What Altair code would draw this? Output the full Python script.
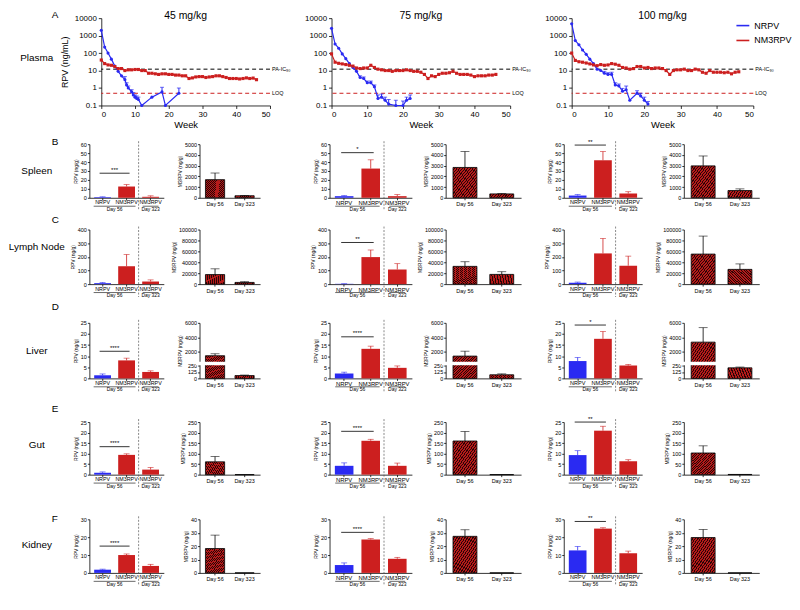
import altair as alt
import pandas as pd

FONT = "Liberation Sans"
BLUE = "#2a2af2"
RED = "#cc1f1f"
HATCH_RED = "#b51a1a"
HATCH_DARK = "#2a0606"

# ---------------- data ----------------
DOSES = ["45 mg/kg", "75 mg/kg", "100 mg/kg"]
SERIES = ["NRPV", "NM3RPV"]
ROW_NAMES = ["Plasma", "Spleen", "Lymph Node", "Liver", "Gut", "Kidney"]
ROW_LETTERS = ["A", "B", "C", "D", "E", "F"]

PLASMA_X_TICKS = [0, 10, 20, 30, 40, 50]
PLASMA_Y_TICKS = [0.1, 1, 10, 100, 1000, 10000]
THRESH_NAMES = ["PA-IC₉₀", "LOQ"]
THRESH_VALUES = [12, 0.5]

NRPV_WEEKS = [
    [0, 1, 2, 3, 4, 5, 6, 7, 7.5, 8, 9, 9.5, 10, 10.5, 11, 12, 15, 18, 19, 23],
    [0, 1, 2, 3, 4, 5, 6, 7, 8, 9, 10, 11, 12, 13, 14, 15, 16, 18, 20, 21, 22],
    [0, 1, 2, 3, 4, 5, 6, 7, 8, 9, 10, 11, 12, 13, 14, 15, 16, 18, 19, 20, 21],
]
NRPV_CONC = [
    [2000, 220, 100, 45, 18, 9, 5, 3, 1.5, 1.0, 0.6, 0.4, 0.3, 0.25, 0.22, 0.1, 0.3, 0.6, 0.1, 0.5],
    [2600, 330, 190, 90, 48, 25, 15, 9, 4, 3.5, 2, 2, 1.2, 0.25, 0.3, 0.2, 0.12, 0.1, 0.1, 0.2, 0.25],
    [4800, 520, 300, 150, 85, 45, 25, 12, 10, 7, 6, 6, 1.5, 1.3, 0.65, 0.8, 0.2, 0.5, 0.35, 0.2, 0.12],
]
NRPV_ERR = [
    [0, 0, 0, 0, 0, 0, 0, 1.5, 0.5, 0.3, 0.2, 0.15, 0.1, 0.1, 0.08, 0, 0, 0.5, 0, 0.5],
    [0, 0, 0, 0, 0, 0, 0, 0, 1, 0.8, 0.5, 0.5, 0.3, 0.15, 0.15, 0.1, 0.1, 0.1, 0.08, 0.1, 0.15],
    [0, 0, 0, 0, 0, 0, 0, 0, 0, 2, 1.5, 2, 0.5, 0.4, 0.3, 0.5, 0, 0.2, 0.15, 0.1, 0.05],
]
NM3RPV_WEEKS = [0, 1, 2, 3, 4, 5, 6, 7, 8, 9, 10, 11, 12, 13, 14, 15, 16, 17, 18, 19, 20, 21, 22, 23,
                24, 25, 26, 27, 28, 29, 30, 31, 32, 33, 34, 35, 36, 37, 38, 39, 40, 41, 42, 43, 44, 45, 46]
NM3RPV_CONC = [
    [40, 25, 21, 20, 17, 13, 13, 10, 11, 11, 11.5, 11.5, 10, 10, 7, 7, 6.5, 6, 6.5, 6.5, 6, 6, 5.5, 5.5,
     5, 5, 3.5, 3.8, 4.3, 4.5, 4.5, 4, 4.3, 4.5, 5, 5, 4.5, 4, 3.5, 3.5, 3.5, 3.3, 3.5, 3.8, 3.5, 3.7, 3.0],
    [90, 30, 26, 24, 22, 20, 18, 14, 13, 14, 14, 20, 15, 12, 11, 10, 10, 9, 10, 10, 10, 11, 10, 9,
     9, 8, 6, 3.5, 5, 4.5, 6, 7, 7, 7.5, 9, 7, 6, 6, 6, 5.5, 4.5, 5, 5, 5, 5.5, 5.5, 6],
    [100, 38, 32, 30, 27, 24, 21, 19, 22, 20, 21, 25, 23, 20, 15, 14, 12, 13, 17, 17, 14, 15, 13, 14,
     14, 13, 10, 6, 10, 11, 11, 12, 10, 10, 12, 11, 8, 7, 10, 8, 8, 8, 7.5, 8, 6.5, 8, 8.5],
]

ORGANS = ["Spleen", "Lymph Node", "Liver", "Gut", "Kidney"]
BAR_GROUPS = ["NRPV", "NM3RPV d56", "NM3RPV d323"]
BAR_COLORS = [BLUE, RED, RED]
DAY_LABELS = ["Day 56", "Day 323"]
M3_GROUPS = ["Day 56", "Day 323"]

RPV_MEAN = {
    "Spleen": [[0.7, 12.6, 1.1], [1.8, 32.7, 1.8], [2.5, 42, 4.7]],
    "Lymph Node": [[7, 131, 19], [2, 198, 107], [10, 225, 135]],
    "Liver": [[1.4, 8.1, 2.9], [2.2, 13.3, 4.75], [7.8, 17.8, 5.75]],
    "Gut": [[0.9, 9.4, 2.4], [4.2, 16.1, 4.2], [9.3, 20.9, 6.4]],
    "Kidney": [[1.8, 10, 3.9], [4.4, 18.7, 7.9], [12.6, 24.8, 11]],
}
RPV_ERR = {
    "Spleen": [[0.4, 2.2, 1.1], [0.7, 9.8, 1.8], [1.1, 9.8, 2.1]],
    "Lymph Node": [[5, 86, 12], [1, 52, 43], [5, 110, 70]],
    "Liver": [[0.6, 1.0, 0.5], [0.6, 1.2, 0.85], [1.6, 3.3, 0.55]],
    "Gut": [[0.4, 0.5, 1.0], [1.4, 0.7, 1.3], [2.1, 2.1, 0.7]],
    "Kidney": [[0.3, 0.6, 0.9], [1.2, 0.5, 0.8], [2.2, 0.5, 1.2]],
}
RPV_TICKS = {
    "Spleen": [0, 10, 20, 30, 40, 50, 60],
    "Lymph Node": [0, 100, 200, 300, 400],
    "Liver": [0, 5, 10, 15, 20, 25],
    "Gut": [0, 5, 10, 15, 20, 25],
    "Kidney": [0, 10, 20, 30],
}
SIG_TEXT = {
    "Spleen": ["***", "*", "**"],
    "Lymph Node": ["", "**", ""],
    "Liver": ["****", "****", "*"],
    "Gut": ["****", "****", "**"],
    "Kidney": ["****", "****", "**"],
}
SIG_LEVEL = {
    "Spleen": [27.5, 50.5, 59],
    "Lymph Node": [0, 305, 0],
    "Liver": [12.2, 18.7, 24],
    "Gut": [13.3, 20.6, 25],
    "Kidney": [15, 22.7, 28.8],
}
M3_MEAN = {
    "Spleen": [[1690, 190], [2830, 360], [2975, 675]],
    "Lymph Node": [[17500, 3100], [32500, 17800], [55000, 27000]],
    "Liver": [[1450, 55], [1400, 70], [3330, 205]],
    "Gut": [[61, 0], [160, 0], [103, 1]],
    "Kidney": [[18.2, 0], [27.3, 0], [26.4, 0]],
}
M3_ERR = {
    "Spleen": [[620, 30], [1485, 30], [925, 155]],
    "Lymph Node": [[10500, 1300], [8500, 4900], [33000, 10000]],
    "Liver": [[270, 10], [680, 18], [2000, 15]],
    "Gut": [[25, 0], [45, 0], [34, 0]],
    "Kidney": [[10, 0], [4.9, 0], [6, 0]],
}
M3_TICKS = {
    "Spleen": [0, 1000, 2000, 3000, 4000, 5000],
    "Lymph Node": [0, 20000, 40000, 60000, 80000, 100000],
    "Liver": [0, 125, 250, 2000, 4000, 6000],
    "Gut": [0, 50, 100, 150, 200, 250],
    "Kidney": [0, 10, 20, 30, 40],
}
LIVER_BREAK = [250, 650]  # lower segment top, upper segment bottom

# ---------------- layout (style) ----------------
ANCHOR_X = -11
PLASMA_ROW_W = [81, 170, 62, 180, 62, 183]
BAR_ROW_W = [69, 75, 36, 61, 70, 83, 34, 76, 43, 79, 42, 76]
ROW_H = [88, 54, 55, 56, 53, 54]
ROW_TOP = [8, 15, 17, 24, 29, 30]      # space reserved above each row's plots
ROW_BOTTOM = [23, 14, 14, 14, 14, 14]  # space reserved below each row's plots
NAME_X = 16
NAME_Y = [40, 27, 18, 28, 23, 26]
LETTER_X = 31
LETTER_Y = [-8, -7, -15, -21, -18, -5]
P_IN, P_OUT = 0.3, 0.2


def spacer(w, h):
    return alt.Chart(pd.DataFrame({"s": [0]})).mark_point(opacity=0, size=1).encode(
        x=alt.value(0), y=alt.value(0)).properties(width=w, height=h)


def label_chart(r, w, h):
    t1 = alt.Chart(pd.DataFrame({"t": [ROW_NAMES[r]]})).mark_text(
        align="center", baseline="middle", fontSize=10, font=FONT).encode(
        text="t:N", x=alt.value(NAME_X), y=alt.value(NAME_Y[r]))
    t2 = alt.Chart(pd.DataFrame({"t": [ROW_LETTERS[r]]})).mark_text(
        align="left", baseline="top", fontSize=10, font=FONT).encode(
        text="t:N", x=alt.value(LETTER_X), y=alt.value(LETTER_Y[r]))
    anchor = alt.Chart(pd.DataFrame({"t": [ROW_NAMES[r]]})).mark_rule(
        strokeOpacity=0, strokeWidth=0.5).encode(
        x=alt.value(ANCHOR_X), y=alt.value(-ROW_TOP[r]), y2=alt.value(h + ROW_BOTTOM[r]))
    return alt.layer(anchor, t1, t2).properties(width=w, height=h)


LEGEND = alt.Legend(orient="none", legendX=720, legendY=0, title=None,
                    symbolType="stroke", symbolStrokeWidth=1.6, symbolSize=169,
                    labelFontSize=9, labelFont=FONT, rowPadding=2, labelOffset=4)


def plasma_panel(d, w, h):
    nr = pd.DataFrame({"week": NRPV_WEEKS[d], "conc": NRPV_CONC[d], "err": NRPV_ERR[d]})
    nr["series"] = "NRPV"
    nr["top"] = nr["conc"] + nr["err"]
    rd = pd.DataFrame({"week": NM3RPV_WEEKS, "conc": NM3RPV_CONC[d]})
    rd["series"] = "NM3RPV"
    rd["err"] = 0.0
    rd["top"] = rd["conc"]
    df = pd.concat([nr, rd], ignore_index=True)

    xsc = alt.Scale(domain=[0, 50], nice=False)
    ysc = alt.Scale(type="log", domain=[0.1, 10000], nice=False)
    xax = alt.Axis(title="Week", values=PLASMA_X_TICKS, labelFontSize=8, titleFontSize=9.5,
                   tickSize=3, titlePadding=1, labelPadding=2)
    yax_kw = dict(values=PLASMA_Y_TICKS, format="~g", labelFontSize=8, tickSize=3, labelPadding=2)
    if d == 0:
        yax_kw.update(title="RPV (ng/mL)", titleFontSize=9, titlePadding=5)
    else:
        yax_kw.update(title=None)
    yax = alt.Axis(**yax_kw)

    def X(f="week"):
        return alt.X(f + ":Q", scale=xsc, axis=xax)

    def Y(f):
        return alt.Y(f + ":Q", scale=ysc, axis=yax)

    cscale = alt.Scale(domain=SERIES, range=[BLUE, RED])
    base = alt.Chart(df)
    lines = base.mark_line(strokeWidth=1.2).encode(
        X(), Y("conc"), color=alt.Color("series:N", scale=cscale, legend=LEGEND),
        order="week:Q")
    p_blue = base.transform_filter("datum.series == 'NRPV'").mark_point(
        filled=True, size=10, opacity=1, shape="circle", color=BLUE).encode(X(), Y("conc"))
    p_red = base.transform_filter("datum.series == 'NM3RPV'").mark_point(
        filled=True, size=10, opacity=1, shape="square", color=RED).encode(X(), Y("conc"))
    eb = base.transform_filter("datum.err > 0")
    err = eb.mark_rule(strokeWidth=1, color=BLUE).encode(X(), Y("conc"), y2="top:Q")
    cap = eb.mark_tick(thickness=1, size=4, orient="horizontal", color=BLUE).encode(X(), Y("top"))

    th = pd.DataFrame({"name": THRESH_NAMES, "val": THRESH_VALUES})
    tb = alt.Chart(th)
    r1 = tb.transform_filter("datum.name == 'LOQ'").mark_rule(
        strokeDash=[4, 3], strokeWidth=1, color=RED).encode(Y("val"))
    r2 = tb.transform_filter("datum.name != 'LOQ'").mark_rule(
        strokeDash=[4, 3], strokeWidth=1, color="black").encode(Y("val"))
    tt = tb.mark_text(align="left", baseline="middle", fontSize=5.5, font=FONT).encode(
        Y("val"), x=alt.value(w + 2), text="name:N")
    title = alt.Chart(pd.DataFrame({"t": [DOSES[d]]})).mark_text(
        fontSize=10.5, font=FONT, baseline="middle").encode(
        text="t:N", x=alt.value(w / 2), y=alt.value(-2))
    return alt.layer(r2, r1, lines, err, cap, p_blue, p_red, tt, title).properties(width=w, height=h)


def rpv_panel(organ, d, w, h):
    df = pd.DataFrame({"group": BAR_GROUPS, "mean": RPV_MEAN[organ][d],
                       "err": RPV_ERR[organ][d], "fill": BAR_COLORS})
    df["top"] = df["mean"] + df["err"]
    ticks = RPV_TICKS[organ]
    half_gap = 0.5 * P_IN * w / (len(BAR_GROUPS) - P_IN + 2 * P_OUT)
    xsc = alt.Scale(domain=BAR_GROUPS, paddingInner=P_IN, paddingOuter=P_OUT)
    ysc = alt.Scale(domain=[0, ticks[-1]], nice=False)
    xax = alt.Axis(title=None, labelExpr="split(datum.label, ' ')[0]", labelAngle=0,
                   labelFontSize=round(w / 14, 1), tickSize=2, labelPadding=0)
    yax = alt.Axis(title="RPV (ng/g)", values=ticks, format="d", labelFontSize=5.5,
                   titleFontSize=5, tickSize=2, labelPadding=1, titlePadding=2)

    def X(bp=None):
        kw = {} if bp is None else {"bandPosition": bp}
        return alt.X("group:N", scale=xsc, axis=xax, **kw)

    def Y(f):
        return alt.Y(f + ":Q", scale=ysc, axis=yax)

    base = alt.Chart(df)
    bars = base.mark_bar().encode(X(), Y("mean"), fill=alt.Fill("fill:N", scale=None))
    eb = base.transform_filter("datum.err > 0")
    err = eb.mark_rule(strokeWidth=0.8).encode(X(), Y("mean"), y2="top:Q",
                                                stroke=alt.Stroke("fill:N", scale=None))
    cap = eb.mark_tick(thickness=0.8, size=6, orient="horizontal").encode(
        X(), Y("top"), fill=alt.Fill("fill:N", scale=None))

    sep = alt.Chart(pd.DataFrame({"group": [BAR_GROUPS[1]]})).mark_rule(
        strokeDash=[2, 1.5], strokeWidth=0.7, color="#555", xOffset=half_gap).encode(
        X(1), y=alt.value(-3), y2=alt.value(h + 13))

    d56 = alt.Chart(pd.DataFrame({"group": [BAR_GROUPS[0]], "group2": [BAR_GROUPS[1]],
                                  "label": [DAY_LABELS[0]]}))
    d323 = alt.Chart(pd.DataFrame({"group": [BAR_GROUPS[2]], "group2": [BAR_GROUPS[2]],
                                   "label": [DAY_LABELS[1]]}))
    l56 = d56.mark_rule(strokeWidth=0.6, xOffset=-9, x2Offset=9, color="black").encode(
        X(), x2="group2:N", y=alt.value(h + 8.5))
    l323 = d323.mark_rule(strokeWidth=0.6, xOffset=-8, x2Offset=8, color="black").encode(
        X(), x2="group2:N", y=alt.value(h + 8.5))
    t56 = d56.mark_text(fontSize=5, font=FONT, baseline="top", dx=half_gap).encode(
        X(1), y=alt.value(h + 9.2), text="label:N")
    t323 = d323.mark_text(fontSize=5, font=FONT, baseline="top").encode(
        X(), y=alt.value(h + 9.2), text="label:N")

    layers = [bars, err, cap, sep, l56, l323, t56, t323]
    if SIG_TEXT[organ][d]:
        sd = alt.Chart(pd.DataFrame({"group": [BAR_GROUPS[0]], "group2": [BAR_GROUPS[1]],
                                     "level": [SIG_LEVEL[organ][d]],
                                     "stars": [SIG_TEXT[organ][d]]}))
        layers.append(sd.mark_rule(strokeWidth=0.8, color="black", xOffset=-3, x2Offset=3).encode(
            X(), x2="group2:N", y=Y("level")))
        layers.append(sd.mark_text(fontSize=6, font=FONT, baseline="bottom", dy=-0.5,
                                   dx=half_gap).encode(X(1), Y("level"), text="stars:N"))
    return alt.layer(*layers).properties(width=w, height=h)


def hatch_fill(n=18):
    stops = []
    for k in range(n):
        a, m, b = k / n, (k + 0.6) / n, (k + 1) / n
        stops += [alt.GradientStop(color=HATCH_RED, offset=a),
                  alt.GradientStop(color=HATCH_RED, offset=m),
                  alt.GradientStop(color=HATCH_DARK, offset=m),
                  alt.GradientStop(color=HATCH_DARK, offset=b)]
    return alt.LinearGradient(gradient="linear", stops=stops, x1=0, y1=0, x2=1, y2=1)


def m3_panel(organ, d, w, h):
    df = pd.DataFrame({"group": M3_GROUPS, "mean": M3_MEAN[organ][d], "err": M3_ERR[organ][d]})
    df["top"] = df["mean"] + df["err"]
    ticks = M3_TICKS[organ]
    xsc = alt.Scale(domain=M3_GROUPS, paddingInner=0.35, paddingOuter=0.2)
    if organ == "Liver":
        ysc = alt.Scale(domain=[0, LIVER_BREAK[0], LIVER_BREAK[1], ticks[-1]],
                        range=[h, h - 13, h - 17, 0])
    else:
        ysc = alt.Scale(domain=[0, ticks[-1]], nice=False)
    xax = alt.Axis(title=None, labelAngle=0, labelFontSize=5.5, tickSize=2, labelPadding=2)
    yax = alt.Axis(title="M3RPV (ng/g)", values=ticks, format="d", labelFontSize=5.5,
                   titleFontSize=5, tickSize=2, labelPadding=1, titlePadding=2)
    X = alt.X("group:N", scale=xsc, axis=xax)

    def Y(f):
        return alt.Y(f + ":Q", scale=ysc, axis=yax)

    base = alt.Chart(df)
    bars = base.mark_bar(fill=hatch_fill(), stroke="black", strokeWidth=0.8).encode(X, Y("mean"))
    eb = base.transform_filter("datum.err > 0")
    err = eb.mark_rule(strokeWidth=0.8, color="black").encode(X, Y("mean"), y2="top:Q")
    cap = eb.mark_tick(thickness=0.8, size=9, orient="horizontal", color="black").encode(X, Y("top"))
    layers = [bars, err, cap]
    if organ == "Liver":
        gap = alt.Chart(pd.DataFrame({"lo": [LIVER_BREAK[0] + 15], "hi": [LIVER_BREAK[1] - 20]})).mark_rect(
            color="white").encode(x=alt.value(-4), x2=alt.value(w), y=Y("lo"), y2="hi:Q")
        layers.append(gap)
    return alt.layer(*layers).properties(width=w, height=h)


rows = []
# plasma row
prow = [label_chart(0, PLASMA_ROW_W[0], ROW_H[0]),
        plasma_panel(0, PLASMA_ROW_W[1], ROW_H[0]),
        spacer(PLASMA_ROW_W[2], ROW_H[0]),
        plasma_panel(1, PLASMA_ROW_W[3], ROW_H[0]),
        spacer(PLASMA_ROW_W[4], ROW_H[0]),
        plasma_panel(2, PLASMA_ROW_W[5], ROW_H[0])]
rows.append(alt.hconcat(*prow, spacing=0, bounds="flush"))

for oi, organ in enumerate(ORGANS):
    r = oi + 1
    h = ROW_H[r]
    row = [label_chart(r, BAR_ROW_W[0], h)]
    for d in range(3):
        c0 = 1 + 4 * d
        row.append(rpv_panel(organ, d, BAR_ROW_W[c0], h))
        row.append(spacer(BAR_ROW_W[c0 + 1], h))
        row.append(m3_panel(organ, d, BAR_ROW_W[c0 + 2], h))
        if d < 2:
            row.append(spacer(BAR_ROW_W[c0 + 3], h))
    rows.append(alt.hconcat(*row, spacing=0, bounds="flush"))

chart = alt.vconcat(*rows, spacing=0).properties(
    padding={"left": 0, "top": 0, "right": 0, "bottom": 0}
).configure_view(stroke=None).configure_axis(
    grid=False, labelFont=FONT, titleFont=FONT, titleFontWeight="normal",
    domainColor="black", tickColor="black", labelColor="black", titleColor="black",
    domainWidth=0.8, tickWidth=0.8
).configure_text(font=FONT)

chart.save("out.html", embed_options={"renderer": "svg", "actions": False})
